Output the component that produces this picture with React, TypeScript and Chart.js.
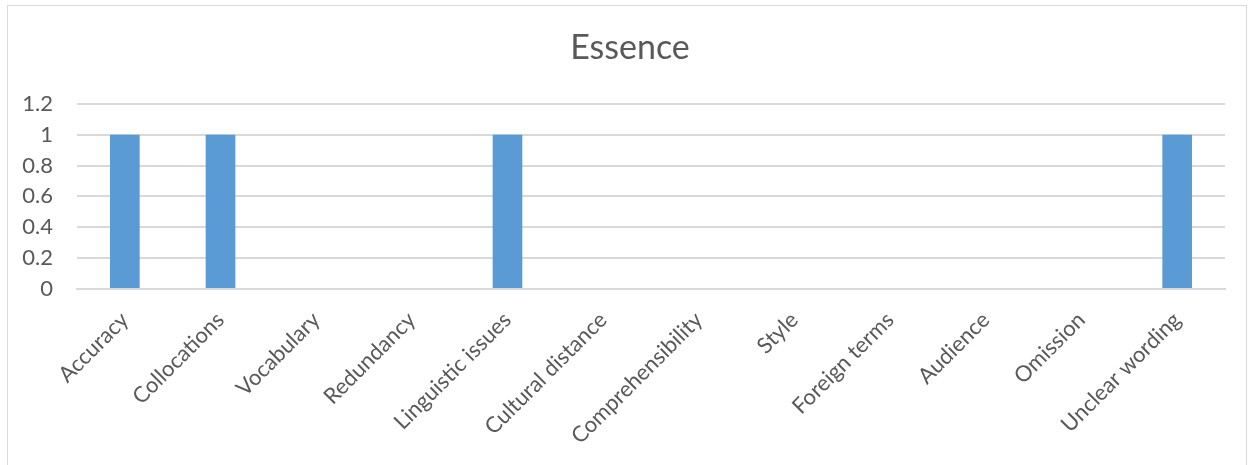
import React, { useEffect, useRef } from "react";
import { Chart, registerables } from "chart.js";

Chart.register(...registerables);

const categories = [
  "Accuracy",
  "Collocations",
  "Vocabulary",
  "Redundancy",
  "Linguistic issues",
  "Cultural distance",
  "Comprehensibility",
  "Style",
  "Foreign terms",
  "Audience",
  "Omission",
  "Unclear wording",
];
const values = [1, 1, 0, 0, 1, 0, 0, 0, 0, 0, 0, 1];
const yTicks = [0, 0.2, 0.4, 0.6, 0.8, 1, 1.2];
const chartTitle = "Essence";

const FONT = "Lato, 'Open Sans', sans-serif";
const TEXT = "#595959";
const GRID = "#d9d9d9";

const centerTitle = {
  id: "centerTitle",
  afterLayout(chart: any) {
    const tb = chart.titleBlock;
    if (tb) {
      tb.left = 14;
      tb.right = 1246;
      tb.width = tb.right - tb.left;
    }
  },
};

export default function App() {
  const ref = useRef<HTMLCanvasElement | null>(null);
  useEffect(() => {
    if (!ref.current) return;
    const chart = new Chart(ref.current, {
      type: "bar",
      data: {
        labels: categories,
        datasets: [
          {
            data: values,
            backgroundColor: "#5b9bd5",
            borderWidth: 0,
            categoryPercentage: 1,
            barPercentage: 0.31,
          },
        ],
      },
      plugins: [centerTitle],
      options: {
        animation: false,
        responsive: false,
        maintainAspectRatio: false,
        layout: { padding: { left: 0, right: 28, top: 0, bottom: 0 } },
        plugins: {
          legend: { display: false },
          tooltip: { enabled: false },
          title: {
            display: true,
            text: chartTitle,
            color: TEXT,
            font: { family: FONT, size: 34, weight: "normal", lineHeight: 1.2 },
            padding: { top: 28, bottom: 35 },
          },
        },
        scales: {
          x: {
            grid: { display: false, drawTicks: false },
            border: { display: true, color: GRID, width: 2 },
            ticks: {
              color: TEXT,
              font: { family: FONT, size: 22 },
              maxRotation: 45,
              minRotation: 45,
              padding: 18,
              autoSkip: false,
            },
            afterFit: (s: any) => {
              s.height = 176;
            },
          },
          y: {
            min: 0,
            max: 1.2,
            afterBuildTicks: (s: any) => {
              s.ticks = yTicks.map((v) => ({ value: v }));
            },
            grid: { color: GRID, lineWidth: 2, drawTicks: false },
            border: { display: false },
            ticks: {
              color: TEXT,
              font: { family: FONT, size: 22 },
              padding: 24,
              callback: (v: any) => String(Math.round(Number(v) * 10) / 10),
            },
            afterFit: (s: any) => {
              s.width = 77;
            },
          },
        },
      },
    });
    return () => chart.destroy();
  }, []);
  return (
    <div style={{ position: "absolute", left: 0, top: 0, width: 1253, height: 465, background: "#fff", overflow: "hidden" }}>
      <div
        style={{
          position: "absolute",
          left: 7,
          top: 5,
          width: 1238,
          height: 480,
          border: "1px solid #d9d9d9",
        }}
      />
      <canvas ref={ref} width={1253} height={465} style={{ position: "absolute", left: 0, top: 0 }} />
    </div>
  );
}
